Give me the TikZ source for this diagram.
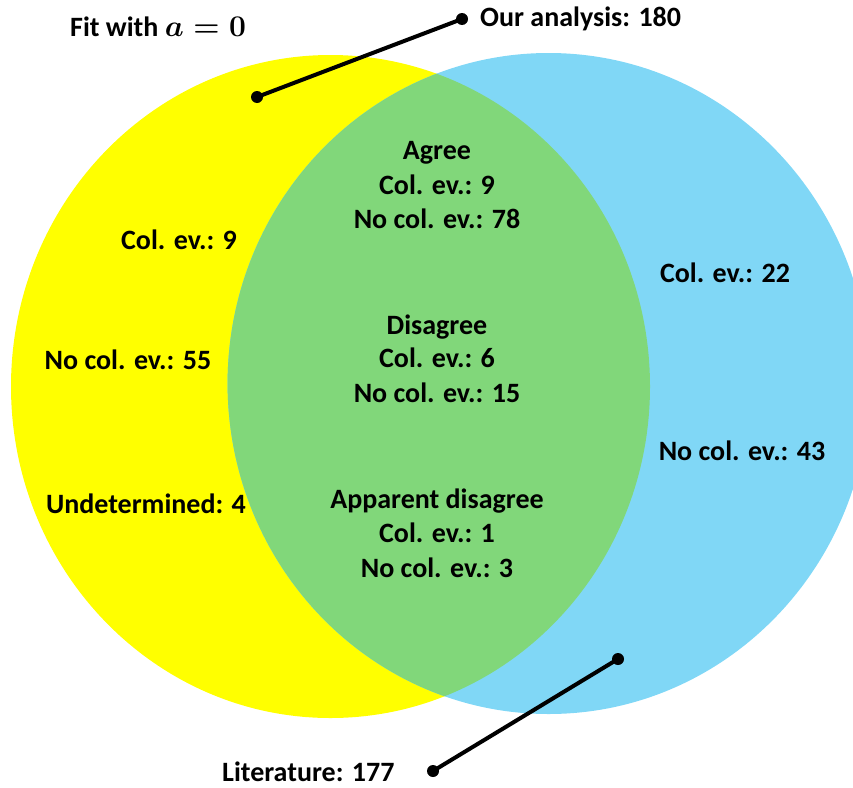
\documentclass[tikz,border=0pt]{standalone}
\usepackage{fix-cm}
\usepackage{fontspec}
\setmainfont{Carlito}
\definecolor{vyellow}{RGB}{255,255,0}
\definecolor{vblue}{RGB}{128,215,246}
\definecolor{vgreen}{RGB}{129,215,122}
\begin{document}
\begin{tikzpicture}[x=1pt,y=-1pt,
  lbl/.style={font=\fontsize{28}{34}\selectfont\bfseries, inner sep=0pt, text depth=0pt, anchor=base},
  dot/.style={circle,fill=black,inner sep=0pt,minimum size=12pt},
  leader/.style={line width=4pt}]
\useasboundingbox (0,0) rectangle (853,787);
\clip (0,0) rectangle (853,787);
\fill[vyellow] (330.5,386.5) ellipse [x radius=319.5, y radius=331.5];
\fill[vblue] (548.6,383.5) ellipse [x radius=321, y radius=330.5];
\begin{scope}
  \clip (330.5,386.5) ellipse [x radius=319.5, y radius=331.5];
  \fill[vgreen] (548.6,383.5) ellipse [x radius=321, y radius=330.5];
\end{scope}
% labels
\node[lbl, anchor=base west] (fit) at (70,36) {Fit with {\fontsize{30}{34}\selectfont\boldmath$a=0$}};
\node[lbl, anchor=base west] (our) at (480,27) {Our analysis: 180};
\node[lbl, anchor=base west] (lit) at (222,781) {Literature: 177};
\node[lbl] (agree) at (437,159) {Agree};
\node[lbl] (agc) at (437,194) {Col. ev.: 9};
\node[lbl] (agn) at (437,228) {No col. ev.: 78};
\node[lbl] (dis) at (437,334) {Disagree};
\node[lbl] (disc) at (437,367) {Col. ev.: 6};
\node[lbl] (disn) at (437,402) {No col. ev.: 15};
\node[lbl] (app) at (437,508) {Apparent disagree};
\node[lbl] (appc) at (437,542) {Col. ev.: 1};
\node[lbl] (appn) at (437,577) {No col. ev.: 3};
\node[lbl] (yc) at (179,249) {Col. ev.: 9};
\node[lbl] (yn) at (128,369) {No col. ev.: 55};
\node[lbl] (yu) at (146,513) {Undetermined: 4};
\node[lbl] (bc) at (725,282) {Col. ev.: 22};
\node[lbl] (bn) at (742,460) {No col. ev.: 43};
% leaders
\node[dot] (d1) at (257,97) {};
\node[dot] (d2) at (462,19) {};
\node[dot] (d3) at (618,659) {};
\node[dot] (d4) at (433,771) {};
\draw[leader] (d1.center) -- (d2.center);
\draw[leader] (d3.center) -- (d4.center);
\end{tikzpicture}
\end{document}
